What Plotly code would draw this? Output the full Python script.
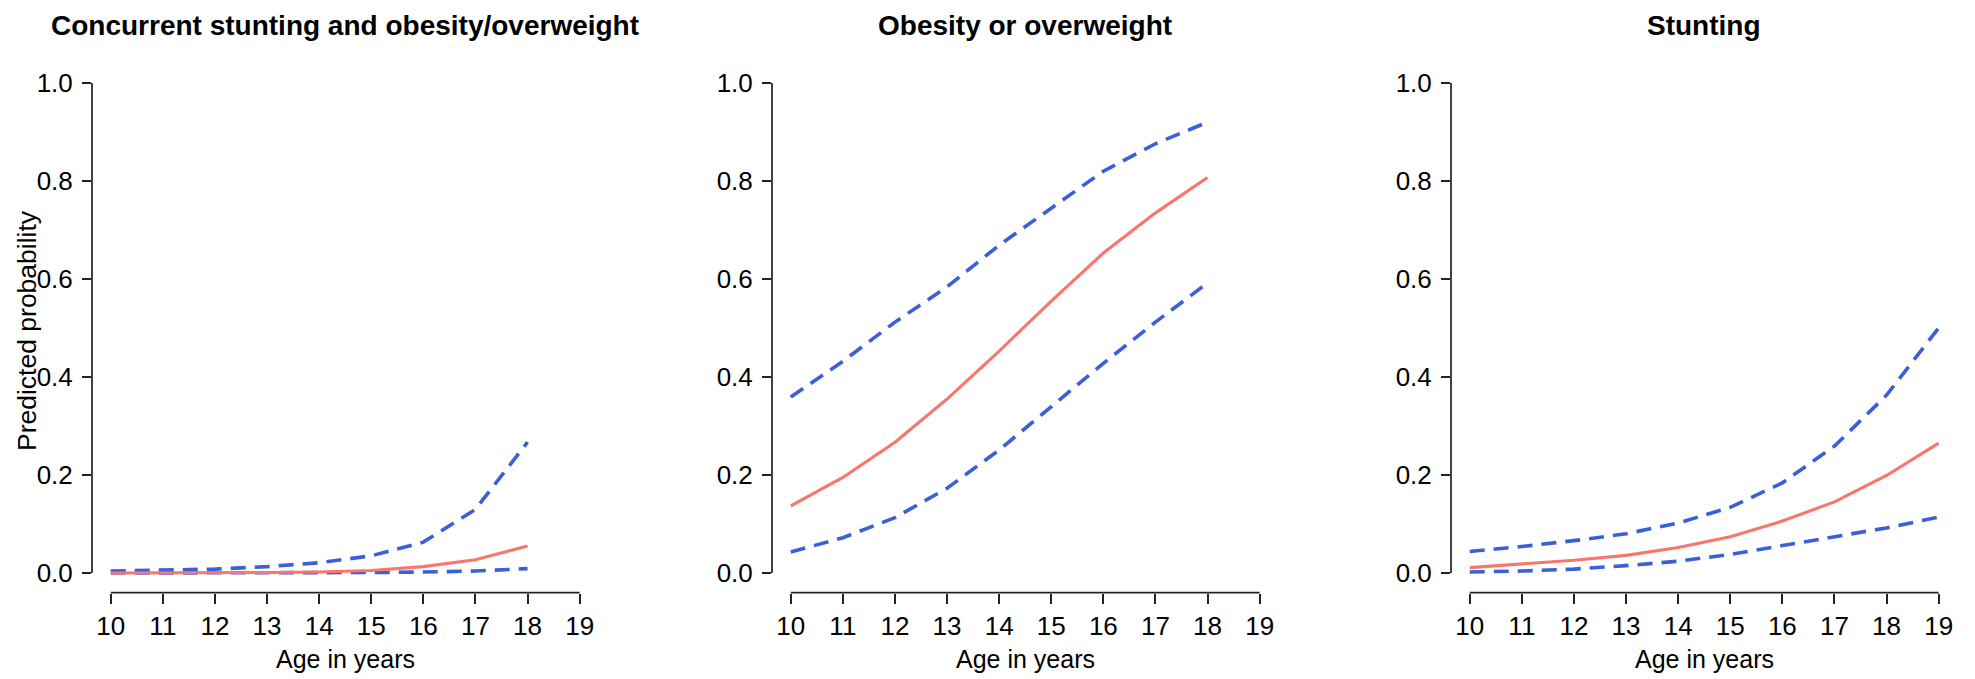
import plotly.graph_objects as go

W, H = 1975, 679

ages = [10, 11, 12, 13, 14, 15, 16, 17, 18, 19]

titles = ["Concurrent stunting and obesity/overweight", "Obesity or overweight", "Stunting"]

# Panel 1: concurrent stunting and obesity/overweight (ages 10-18)
p1_est = [0.000, 0.000, 0.001, 0.001, 0.002, 0.005, 0.013, 0.027, 0.055]
p1_up = [0.004, 0.006, 0.008, 0.013, 0.021, 0.035, 0.063, 0.130, 0.267]
p1_lo = [0.000, 0.000, 0.000, 0.000, 0.000, 0.001, 0.002, 0.004, 0.009]

# Panel 2: obesity or overweight (ages 10-18)
p2_est = [0.137, 0.195, 0.267, 0.355, 0.453, 0.555, 0.653, 0.735, 0.807]
p2_up = [0.359, 0.432, 0.512, 0.584, 0.669, 0.745, 0.820, 0.876, 0.920]
p2_lo = [0.043, 0.072, 0.113, 0.173, 0.251, 0.339, 0.428, 0.512, 0.592]

# Panel 3: stunting (ages 10-19)
p3_est = [0.011, 0.018, 0.026, 0.036, 0.052, 0.074, 0.106, 0.145, 0.199, 0.265]
p3_up = [0.044, 0.054, 0.066, 0.080, 0.102, 0.134, 0.184, 0.259, 0.363, 0.500]
p3_lo = [0.002, 0.004, 0.008, 0.015, 0.024, 0.038, 0.056, 0.074, 0.092, 0.114]

x_ticks = [10, 11, 12, 13, 14, 15, 16, 17, 18, 19]
y_ticks = [0.0, 0.2, 0.4, 0.6, 0.8, 1.0]
y_tick_text = ["0.0", "0.2", "0.4", "0.6", "0.8", "1.0"]

panels = [(p1_est, p1_up, p1_lo), (p2_est, p2_up, p2_lo), (p3_est, p3_up, p3_lo)]

RED = "#F8766D"
BLUE = "#3B5FD8"
FONT = "Liberation Sans, Arial, sans-serif"

# pixel layout
axis_left_px = [92, 772, 1451]
px_per_year = 52.1
x_lo, x_hi = 9.64, 19.36
top_px, bot_px = 63.4, 592.6

fig = go.Figure()
layout = dict(
    width=W, height=H, margin=dict(l=0, r=0, t=0, b=0),
    paper_bgcolor="white", plot_bgcolor="white", showlegend=False,
    font=dict(family=FONT, color="black", size=24),
)

annotations = []
shapes = []
for i, (est, up, lo) in enumerate(panels):
    n = len(est)
    xs = ages[:n]
    xa = "x" if i == 0 else f"x{i+1}"
    ya = "y" if i == 0 else f"y{i+1}"
    for vals, color, dash, width in [(up, BLUE, "15px,9px", 3.6), (lo, BLUE, "15px,9px", 3.6), (est, RED, "solid", 3.1)]:
        fig.add_trace(go.Scatter(x=xs, y=vals, mode="lines", xaxis=xa, yaxis=ya,
                                 line=dict(color=color, width=width, dash=dash),
                                 hoverinfo="skip"))
    left = axis_left_px[i]
    right = left + (x_hi - x_lo) * px_per_year
    dom_x = [left / W, right / W]
    dom_y = [1 - bot_px / H, 1 - top_px / H]
    key_x = "xaxis" if i == 0 else f"xaxis{i+1}"
    key_y = "yaxis" if i == 0 else f"yaxis{i+1}"
    layout[key_x] = dict(domain=dom_x, range=[x_lo, x_hi], anchor=ya, showgrid=False, zeroline=False,
                         showline=False, ticks="outside", ticklen=10, tickwidth=1.7, tickcolor="#222",
                         tickvals=x_ticks, ticktext=[str(t) for t in x_ticks],
                         tickfont=dict(family=FONT, size=26, color="black"), fixedrange=True)
    layout[key_y] = dict(domain=dom_y, range=[-0.04, 1.04], anchor=xa, showgrid=False, zeroline=False,
                         showline=False, ticks="outside", ticklen=9, tickwidth=1.7, tickcolor="#222",
                         tickvals=y_ticks, ticktext=y_tick_text, ticklabelstandoff=4,
                         tickfont=dict(family=FONT, size=26, color="black"), fixedrange=True)
    # axis lines spanning only the tick range (R style)
    shapes.append(dict(type="line", xref=xa, yref=f"{ya} domain", x0=10, x1=19, y0=0, y1=0,
                       line=dict(color="#222", width=1.7)))
    shapes.append(dict(type="line", xref=f"{xa} domain", yref=ya, x0=0, x1=0, y0=0, y1=1,
                       line=dict(color="#222", width=1.7)))
    cx = (left + right) / 2 / W
    annotations.append(dict(text=f"<b>{titles[i]}</b>", x=cx, y=1 - 26 / H, xref="paper", yref="paper",
                            xanchor="center", yanchor="middle", showarrow=False,
                            font=dict(family=FONT, size=28, color="black")))
    annotations.append(dict(text="Age in years", x=cx, y=1 - 659 / H, xref="paper", yref="paper",
                            xanchor="center", yanchor="middle", showarrow=False,
                            font=dict(family=FONT, size=25, color="black")))

annotations.append(dict(text="Predicted probability", x=27 / W, y=1 - 331 / H, xref="paper", yref="paper",
                        xanchor="center", yanchor="middle", textangle=-90, showarrow=False,
                        font=dict(family=FONT, size=26.5, color="black")))

layout["annotations"] = annotations
layout["shapes"] = shapes
fig.update_layout(**layout)
fig.write_html("out.html", post_script="document.body.style.margin='0';",
               config={"displayModeBar": False})
